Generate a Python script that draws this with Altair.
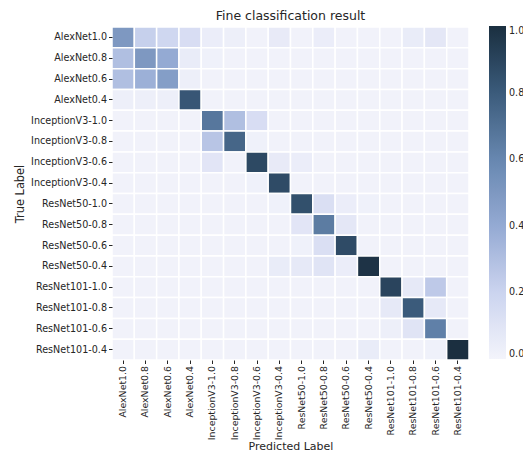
import altair as alt
import pandas as pd

labels = ["AlexNet1.0", "AlexNet0.8", "AlexNet0.6", "AlexNet0.4",
          "InceptionV3-1.0", "InceptionV3-0.8", "InceptionV3-0.6", "InceptionV3-0.4",
          "ResNet50-1.0", "ResNet50-0.8", "ResNet50-0.6", "ResNet50-0.4",
          "ResNet101-1.0", "ResNet101-0.8", "ResNet101-0.6", "ResNet101-0.4"]

# rows = true label, columns = predicted label
matrix = [
    [0.50, 0.22, 0.18, 0.14, 0.04, 0.03, 0.01, 0.06, 0.01, 0.04, 0.01, 0.01, 0.01, 0.05, 0.08, 0.01],
    [0.30, 0.50, 0.40, 0.05, 0.02, 0.01, 0.01, 0.01, 0.01, 0.01, 0.01, 0.01, 0.01, 0.01, 0.01, 0.01],
    [0.30, 0.37, 0.47, 0.03, 0.01, 0.01, 0.01, 0.01, 0.01, 0.01, 0.01, 0.01, 0.01, 0.01, 0.01, 0.01],
    [0.03, 0.03, 0.03, 0.82, 0.01, 0.01, 0.01, 0.01, 0.01, 0.01, 0.01, 0.01, 0.01, 0.01, 0.01, 0.01],
    [0.01, 0.01, 0.01, 0.01, 0.67, 0.30, 0.14, 0.01, 0.01, 0.01, 0.01, 0.01, 0.01, 0.01, 0.01, 0.01],
    [0.01, 0.01, 0.01, 0.01, 0.27, 0.75, 0.02, 0.01, 0.01, 0.01, 0.01, 0.01, 0.01, 0.01, 0.01, 0.01],
    [0.01, 0.01, 0.01, 0.01, 0.09, 0.01, 0.88, 0.06, 0.04, 0.01, 0.01, 0.01, 0.01, 0.01, 0.01, 0.01],
    [0.01, 0.01, 0.01, 0.01, 0.01, 0.01, 0.02, 0.87, 0.01, 0.01, 0.01, 0.01, 0.01, 0.01, 0.01, 0.01],
    [0.01, 0.01, 0.01, 0.01, 0.01, 0.01, 0.01, 0.02, 0.85, 0.13, 0.04, 0.02, 0.01, 0.01, 0.01, 0.01],
    [0.01, 0.01, 0.01, 0.01, 0.01, 0.01, 0.01, 0.01, 0.09, 0.65, 0.08, 0.01, 0.01, 0.01, 0.01, 0.01],
    [0.01, 0.01, 0.01, 0.01, 0.01, 0.01, 0.01, 0.01, 0.02, 0.13, 0.87, 0.01, 0.01, 0.01, 0.01, 0.01],
    [0.01, 0.01, 0.01, 0.01, 0.01, 0.01, 0.01, 0.05, 0.07, 0.10, 0.04, 0.98, 0.01, 0.01, 0.01, 0.01],
    [0.01, 0.01, 0.01, 0.01, 0.01, 0.01, 0.01, 0.01, 0.01, 0.01, 0.01, 0.01, 0.90, 0.07, 0.25, 0.01],
    [0.01, 0.01, 0.01, 0.01, 0.01, 0.01, 0.01, 0.01, 0.01, 0.01, 0.01, 0.01, 0.07, 0.80, 0.07, 0.01],
    [0.01, 0.01, 0.01, 0.01, 0.01, 0.01, 0.01, 0.01, 0.01, 0.01, 0.01, 0.01, 0.03, 0.10, 0.63, 0.01],
    [0.01, 0.01, 0.01, 0.01, 0.01, 0.01, 0.01, 0.01, 0.01, 0.01, 0.01, 0.05, 0.01, 0.01, 0.02, 1.00],
]

color_stops = [0.0, 0.2, 0.4, 0.6, 0.8, 1.0]
color_range = ["#f3f4fb", "#cbd4ef", "#94aad3", "#6787b0", "#3b5b7b", "#1b2f40"]
legend_ticks = [0.0, 0.2, 0.4, 0.6, 0.8, 1.0]

rows = []
for i, t in enumerate(labels):
    for j, p in enumerate(labels):
        rows.append({"true": t, "pred": p, "value": matrix[i][j]})
df = pd.DataFrame(rows)

FONT = "DejaVu Sans"

chart = alt.Chart(df).mark_rect(stroke="white", strokeWidth=1.5).encode(
    x=alt.X("pred:N", sort=labels, title="Predicted Label",
            scale=alt.Scale(paddingInner=0, paddingOuter=0),
            axis=alt.Axis(labelAngle=-90, labelFontSize=9.4, titleFontSize=11,
                          titleFontWeight="normal", titlePadding=1, tickSize=3.5,
                          tickColor="#262626", domain=False, labelPadding=2,
                          labelColor="#262626", titleColor="#262626")),
    y=alt.Y("true:N", sort=labels, title="True Label",
            scale=alt.Scale(paddingInner=0, paddingOuter=0),
            axis=alt.Axis(labelFontSize=9.6, titleFontSize=11.4, titleFontWeight="normal",
                          titlePadding=5, tickSize=3.5, tickColor="#262626", domain=False,
                          labelPadding=2, labelColor="#262626", titleColor="#262626")),
    color=alt.Color("value:Q",
                    scale=alt.Scale(domain=color_stops, range=color_range),
                    legend=alt.Legend(title=None, orient="none", legendX=377, legendY=-1,
                                      gradientLength=333, gradientThickness=17,
                                      values=legend_ticks, format=".1f",
                                      labelFontSize=9.6, labelOffset=3,
                                      labelColor="#262626", gradientStrokeWidth=0)),
).properties(
    width=357,
    height=333,
    title=alt.TitleParams("Fine classification result", fontSize=12.5,
                          fontWeight="normal", anchor="middle", offset=4,
                          color="#262626", font=FONT),
    autosize=alt.AutoSizeParams(type="none"),
    padding={"left": 104, "top": 19, "right": 54, "bottom": 96},
).configure_axis(
    labelFont=FONT, titleFont=FONT, grid=False
).configure_legend(
    labelFont=FONT
).configure_view(
    stroke=None
)

chart.save("out.html", embed_options={"renderer": "svg", "actions": False})
